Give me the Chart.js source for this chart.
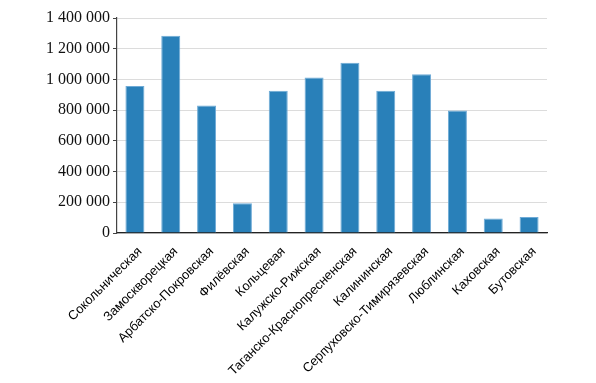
<!DOCTYPE html>
<html lang="ru">
<head>
  <meta charset="UTF-8" />
  <title>Линии метро</title>
  <script src="https://cdn.jsdelivr.net/npm/chart.js"></script>
  <style>
    body { margin: 0; background: #fff; }
    #wrap { width: 596px; height: 383px; }
  </style>
</head>
<body>
  <div id="wrap"><canvas id="chart" width="596" height="383"></canvas></div>
  <script>
    const lines = [
      'Сокольническая', 'Замоскворецкая', 'Арбатско-Покровская', 'Филёвская',
      'Кольцевая', 'Калужско-Рижская', 'Таганско-Краснопресненская', 'Калининская',
      'Серпуховско-Тимирязевская', 'Люблинская', 'Каховская', 'Бутовская'
    ];
    const values = [
      958000, 1285000, 830000, 194000,
      926000, 1013000, 1109000, 926000,
      1033000, 798000, 95000, 105000
    ];
    const yTicks = [0, 200000, 400000, 600000, 800000, 1000000, 1200000, 1400000];

    function fmt(v) {
      return String(v).replace(/\B(?=(\d{3})+(?!\d))/g, ' ');
    }

    new Chart(document.getElementById('chart'), {
      type: 'bar',
      data: {
        labels: lines,
        datasets: [{
          data: values,
          backgroundColor: '#2980b9',
          borderColor: '#6eaad6',
          borderWidth: 1,
          barPercentage: 0.53,
          categoryPercentage: 1.0
        }]
      },
      options: {
        responsive: false,
        animation: false,
        layout: { padding: { top: 18, right: 49, left: 0, bottom: 0 } },
        plugins: { legend: { display: false }, tooltip: { enabled: false } },
        scales: {
          x: {
            grid: { display: false },
            border: { display: true, color: '#222', width: 1.2 },
            ticks: {
              minRotation: 45,
              maxRotation: 45,
              autoSkip: false,
              padding: 3,
              labelOffset: 5,
              color: '#000',
              font: { family: 'Liberation Sans', size: 12.9 }
            },
            afterFit: s => { s.height = 150; }
          },
          y: {
            min: 0,
            max: 1400000,
            afterBuildTicks: s => { s.ticks = yTicks.map(v => ({ value: v })); },
            grid: { color: '#dcdcdc', tickColor: '#444', tickLength: 4, lineWidth: 1 },
            border: { color: '#444', width: 1.2 },
            ticks: {
              padding: 3,
              color: '#111',
              font: { family: 'Liberation Serif', size: 16 },
              callback: v => fmt(v)
            },
            afterFit: s => { s.width = 117; }
          }
        }
      }
    });
  </script>
</body>
</html>
